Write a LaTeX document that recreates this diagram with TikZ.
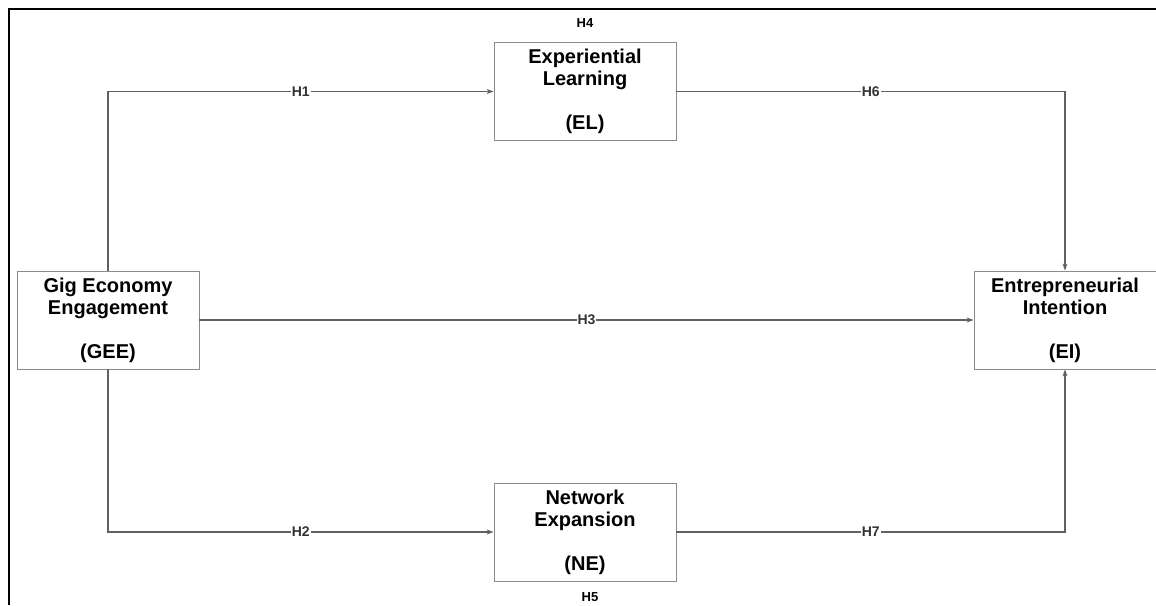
\documentclass[tikz,border=0pt]{standalone}
\usepackage{fontspec}
\setmainfont{Liberation Sans}
\usetikzlibrary{arrows.meta}
\begin{document}
\begin{tikzpicture}[x=1pt,y=-1pt,
  concept/.style={draw=black!45, line width=0.8pt, fill=white, minimum width=182pt, minimum height=98pt,
    align=center, inner sep=0pt, font=\fontsize{20}{22}\selectfont\bfseries, text=black},
  link/.style={draw=black!62, line width=1.5pt, -{Stealth[length=7pt,width=5pt]}},
  hlab/.style={fill=white, inner sep=1pt, font=\fontsize{14}{16}\selectfont\bfseries, text=black!80},
  hout/.style={inner sep=0pt, font=\fontsize{13}{15}\selectfont\bfseries, text=black}]
\useasboundingbox (0,0) rectangle (1156,605);
\draw[line width=1.8pt] (9,605) -- (9,9) -- (1156,9);
\node[concept] (gee) at (108,320) {Gig Economy\\Engagement\\\\(GEE)};
\node[concept] (el) at (585,91.5) {Experiential\\Learning\\\\(EL)};
\node[concept] (ei) at (1065,320) {Entrepreneurial\\Intention\\\\(EI)};
\node[concept] (ne) at (585,532) {Network\\Expansion\\\\(NE)};
\node[hout] (h4) at (585,23) {H4};
\node[hout] (h5) at (590,597) {H5};
\draw[link] (gee.north) |- node[hlab, pos=0.75] {H1} (el.west);
\draw[link] (el.east) -| node[hlab, pos=0.25] {H6} (ei.north);
\draw[link] (gee.east) -- node[hlab] {H3} (ei.west);
\draw[link] (gee.south) |- node[hlab, pos=0.75] {H2} (ne.west);
\draw[link] (ne.east) -| node[hlab, pos=0.25] {H7} (ei.south);
\end{tikzpicture}
\end{document}
